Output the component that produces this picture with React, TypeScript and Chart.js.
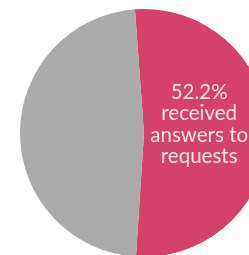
import React, { useEffect, useRef } from "react";
import { Chart, registerables } from "chart.js";

Chart.register(...registerables);

const categories = ["Received answers to requests", "Did not receive answers"];
const shares = [52.2, 47.8];
const sliceColors = ["#d4416a", "#aaaaaa"];
const labelLines = ["52.2%", "received", "answers to", "requests"];

const labelPlugin = {
  id: "sliceLabel",
  afterDatasetsDraw(chart: any) {
    const arc = chart.getDatasetMeta(0).data[0] as any;
    if (!arc) return;
    const ctx = chart.ctx;
    const cx = arc.x + arc.outerRadius * 0.445;
    const lineH = 21.5;
    const firstBaseline = arc.y - 34.5;
    ctx.save();
    ctx.fillStyle = "#fbe4ea";
    ctx.font = "20.5px Lato";
    ctx.textAlign = "center";
    ctx.textBaseline = "alphabetic";
    labelLines.forEach((t, i) => ctx.fillText(t, cx, firstBaseline + i * lineH));
    ctx.restore();
  },
};

export default function App() {
  const ref = useRef<HTMLCanvasElement>(null);
  useEffect(() => {
    if (!ref.current) return;
    const chart = new Chart(ref.current, {
      type: "pie",
      data: {
        labels: categories,
        datasets: [
          {
            data: shares,
            backgroundColor: sliceColors,
            borderWidth: 0,
          },
        ],
      },
      options: {
        responsive: false,
        animation: false,
        rotation: -4.2,
        layout: { padding: { left: 20, right: 22, top: 9, bottom: 13 } },
        plugins: { legend: { display: false }, tooltip: { enabled: false } },
      },
      plugins: [labelPlugin],
    });
    return () => chart.destroy();
  }, []);
  return (
    <div style={{ position: "fixed", left: 0, top: 0, width: 249, height: 255, overflow: "hidden", background: "#fff" }}>
      <canvas ref={ref} width={290} height={270} style={{ display: "block" }} />
    </div>
  );
}
